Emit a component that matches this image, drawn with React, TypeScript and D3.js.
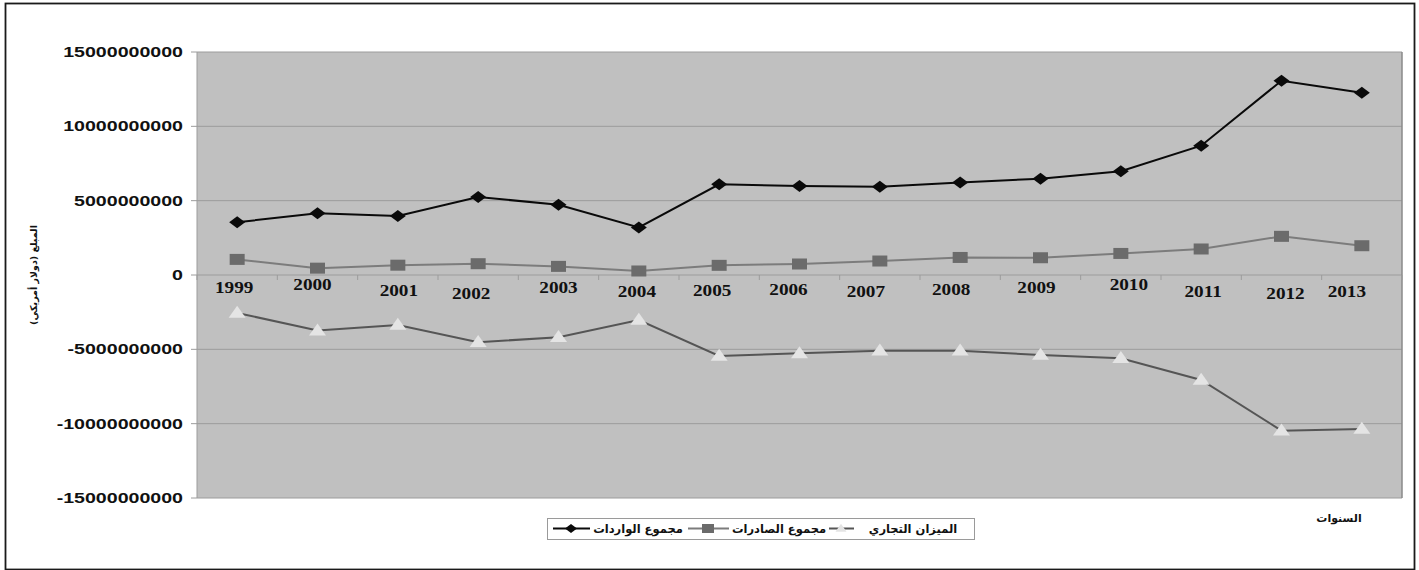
import React from "react";
import * as d3 from "d3";

// Trade figures, US dollars (billions below, scaled when plotted)
const years = ["1999", "2000", "2001", "2002", "2003", "2004", "2005", "2006", "2007", "2008", "2009", "2010", "2011", "2012", "2013"];
const importsBn = [3.55, 4.15, 3.97, 5.25, 4.72, 3.2, 6.1, 5.98, 5.94, 6.22, 6.48, 6.98, 8.7, 13.07, 12.26];
const exportsBn = [1.05, 0.46, 0.66, 0.76, 0.58, 0.27, 0.65, 0.74, 0.94, 1.18, 1.16, 1.45, 1.75, 2.6, 1.97];
const balanceBn = [-2.55, -3.74, -3.36, -4.52, -4.19, -3.03, -5.45, -5.27, -5.09, -5.09, -5.38, -5.6, -7.06, -10.47, -10.36];
const yTicks = [-15000000000, -10000000000, -5000000000, 0, 5000000000, 10000000000, 15000000000];

const seriesNames = ["مجموع الواردات", "مجموع الصادرات", "الميزان التجاري"];
const yTitle = "المبلغ (دولار أمريكي)";
const xTitle = "السنوات";

// hand-placed year labels: horizontal nudge and baseline below the zero line
const labelDx = [-3, -5, 1, -7, 0, -2, -7, -11, -14, -9, -4, 8, 2, 4, -15];
const labelDy = [18, 15, 21, 24, 18, 22, 21, 20, 22, 20, 18, 15, 22, 24, 22];

const W = 1419;
const H = 570;
const plot = { left: 197, right: 1402, top: 52, bottom: 498 };

const x = d3.scaleBand<string>().domain(years).range([plot.left, plot.right]);
const y = d3.scaleLinear().domain([-15e9, 15e9]).range([plot.bottom, plot.top]);
const cx = (yr: string) => (x(yr) as number) + x.bandwidth() / 2;

const line = d3
  .line<[string, number]>()
  .x((d) => cx(d[0]))
  .y((d) => y(d[1] * 1e9));

const pairs = (vals: number[]) => years.map((yr, i) => [yr, vals[i]] as [string, number]);

const diamond = (px: number, py: number, w = 16, h = 12) =>
  `M${px},${py - h / 2}L${px + w / 2},${py}L${px},${py + h / 2}L${px - w / 2},${py}Z`;
const square = (px: number, py: number, w = 15, h = 11) =>
  `M${px - w / 2},${py - h / 2}h${w}v${h}h${-w}Z`;
const triangle = (px: number, py: number, w = 17, h = 12) =>
  `M${px},${py - h * 0.6}L${px + w / 2},${py + h * 0.4}L${px - w / 2},${py + h * 0.4}Z`;

const IMPORT_COLOR = "#0a0a0a";
const EXPORT_LINE = "#7c7c7c";
const EXPORT_FILL = "#6b6b6b";
const BAL_LINE = "#555555";
const BAL_FILL = "#e4e4e4";
const GRID = "#9c9c9c";

export default function App() {
  const zeroY = y(0);
  const boundaries = d3.range(years.length + 1).map((i) => plot.left + i * x.bandwidth());
  const legY = 528.5;
  const legendText = (label: string, mid: number) => (
    <text
      x={mid}
      y={legY + 4.5}
      textAnchor="middle"
      direction="rtl"
      fontFamily="DejaVu Sans, sans-serif"
      fontWeight="bold"
      fontSize={11.5}
      fill="#111"
    >
      {label}
    </text>
  );

  return (
    <svg width={W} height={H} style={{ position: "absolute", left: 0, top: 0, background: "#fff" }}>
      {/* outer frame */}
      <rect x={5.5} y={3.5} width={1409} height={566} fill="#fff" stroke="#1a1a1a" strokeWidth={1.8} />

      {/* plot area */}
      <rect x={plot.left} y={plot.top} width={plot.right - plot.left} height={plot.bottom - plot.top} fill="#c0c0c0" />
      {yTicks.map((t) => (
        <line key={t} x1={plot.left} x2={plot.right} y1={y(t)} y2={y(t)} stroke={GRID} strokeWidth={1} />
      ))}
      <line x1={plot.left} x2={plot.left} y1={plot.top} y2={plot.bottom} stroke={GRID} strokeWidth={1} />
      <line x1={plot.right} x2={plot.right} y1={plot.top} y2={plot.bottom} stroke="#8a8a8a" strokeWidth={1.5} />

      {/* y ticks and labels */}
      {yTicks.map((t) => (
        <g key={"yl" + t}>
          <line x1={191} x2={plot.left} y1={y(t)} y2={y(t)} stroke={GRID} strokeWidth={1} />
          <text
            transform={`translate(183,${y(t) + 5}) scale(1.4,1)`}
            textAnchor="end"
            fontFamily="Liberation Sans, Arial, sans-serif"
            fontWeight="bold"
            fontSize={14}
            fill="#111"
          >
            {t}
          </text>
        </g>
      ))}

      {/* category ticks on the zero line */}
      {boundaries.map((bx, i) => (
        <line key={"xt" + i} x1={bx} x2={bx} y1={zeroY} y2={zeroY + 5} stroke={GRID} strokeWidth={1} />
      ))}

      {/* year labels */}
      {years.map((yr, i) => (
        <text
          key={"xl" + yr}
          transform={`translate(${cx(yr) + labelDx[i]},${zeroY + labelDy[i]}) scale(1.2,1)`}
          textAnchor="middle"
          fontFamily="Liberation Serif, Times New Roman, serif"
          fontWeight="bold"
          fontSize={16}
          fill="#111"
        >
          {yr}
        </text>
      ))}

      {/* series lines */}
      <path d={line(pairs(balanceBn)) as string} fill="none" stroke={BAL_LINE} strokeWidth={2} />
      <path d={line(pairs(exportsBn)) as string} fill="none" stroke={EXPORT_LINE} strokeWidth={2} />
      <path d={line(pairs(importsBn)) as string} fill="none" stroke={IMPORT_COLOR} strokeWidth={2} />

      {/* markers */}
      {years.map((yr, i) => (
        <path key={"b" + yr} d={triangle(cx(yr), y(balanceBn[i] * 1e9))} fill={BAL_FILL} />
      ))}
      {years.map((yr, i) => (
        <path key={"e" + yr} d={square(cx(yr), y(exportsBn[i] * 1e9))} fill={EXPORT_FILL} />
      ))}
      {years.map((yr, i) => (
        <path key={"i" + yr} d={diamond(cx(yr), y(importsBn[i] * 1e9))} fill={IMPORT_COLOR} />
      ))}

      {/* y-axis title */}
      <text
        transform="translate(37,275) rotate(-90)"
        textAnchor="middle"
        fontFamily="DejaVu Sans, sans-serif"
        fontWeight="bold"
        fontSize={9.5}
        fill="#111"
        direction="rtl"
      >
        {yTitle}
      </text>

      {/* x-axis title */}
      <text
        x={1339}
        y={522}
        textAnchor="middle"
        fontFamily="DejaVu Sans, sans-serif"
        fontWeight="bold"
        fontSize={11}
        fill="#111"
        direction="rtl"
      >
        {xTitle}
      </text>

      {/* legend */}
      <rect x={547.5} y={518.5} width={427} height={21} fill="#fff" stroke="#9a9a9a" strokeWidth={1} />
      <line x1={553} x2={590} y1={legY} y2={legY} stroke={IMPORT_COLOR} strokeWidth={2} />
      <path d={diamond(571, legY, 12, 9)} fill={IMPORT_COLOR} />
      {legendText(seriesNames[0], 638)}
      <line x1={688} x2={729} y1={legY} y2={legY} stroke={EXPORT_LINE} strokeWidth={2} />
      <path d={square(708, legY, 12, 9)} fill={EXPORT_FILL} />
      {legendText(seriesNames[1], 779)}
      <line x1={829} x2={854} y1={legY} y2={legY} stroke={BAL_LINE} strokeWidth={2} />
      <path d={triangle(841, legY, 11, 8)} fill={BAL_FILL} />
      {legendText(seriesNames[2], 913)}
    </svg>
  );
}
